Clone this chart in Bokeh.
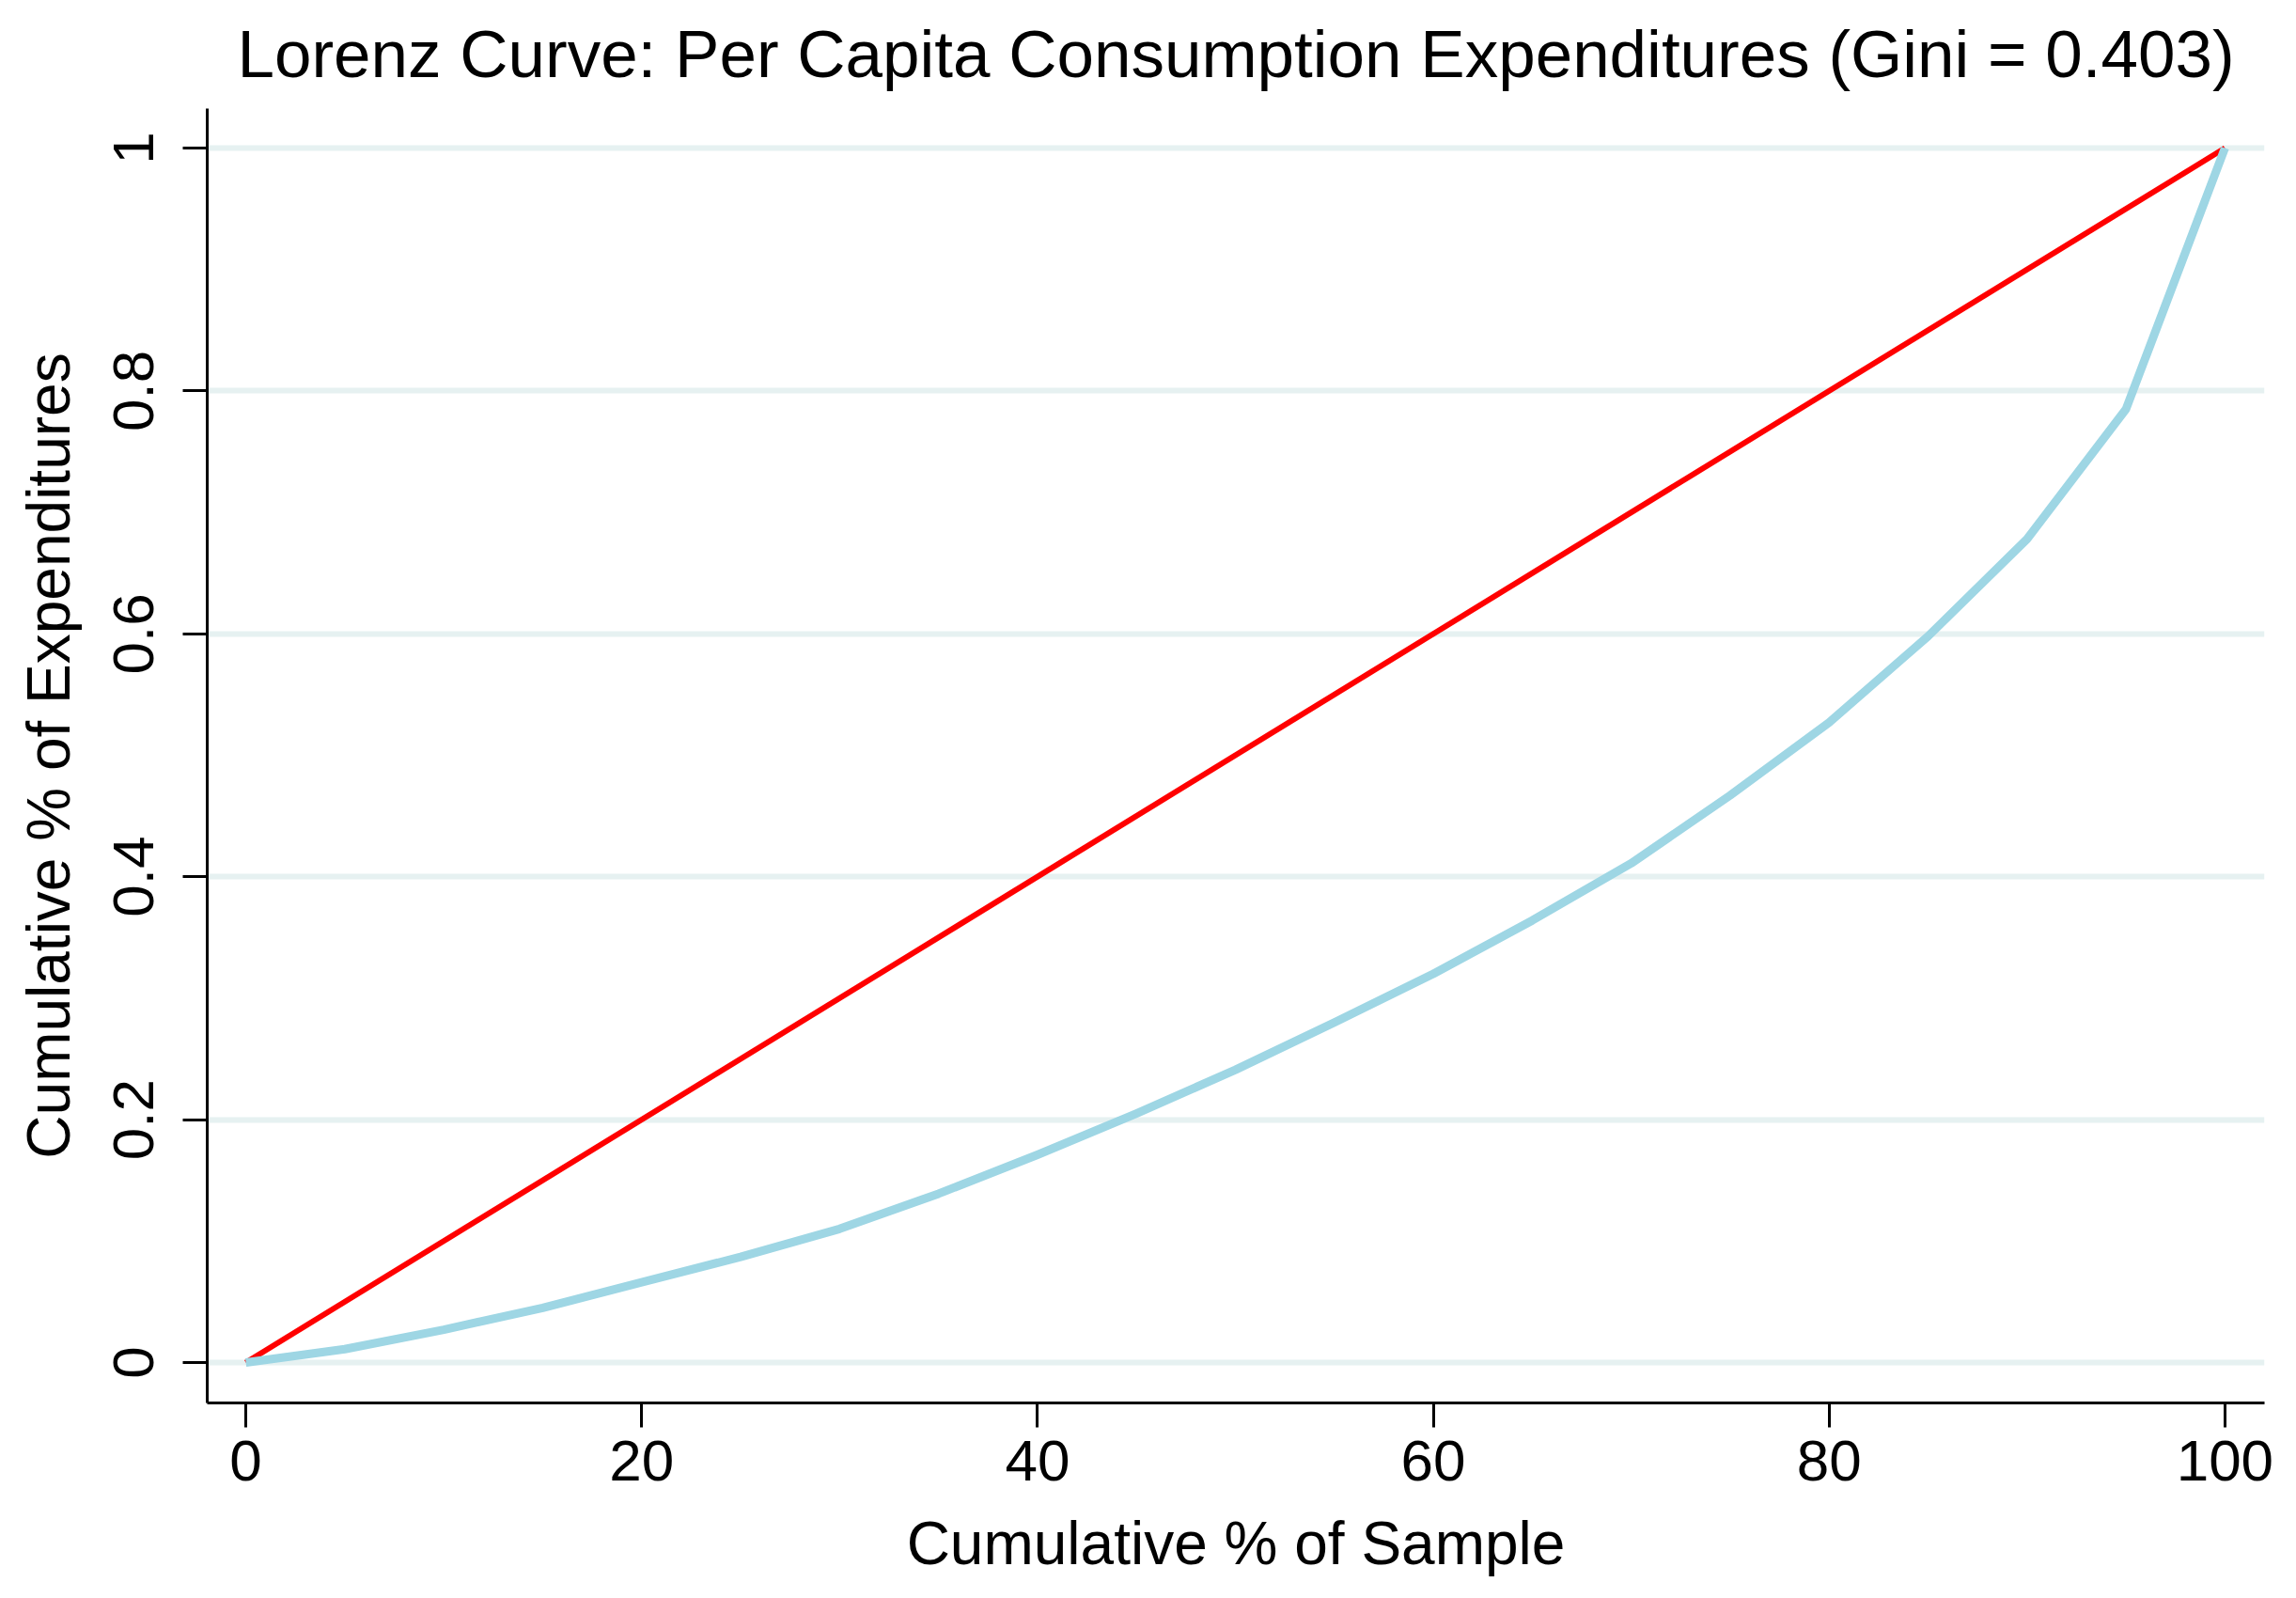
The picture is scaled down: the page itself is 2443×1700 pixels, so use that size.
from bokeh.plotting import figure
from bokeh.models import Range1d, FixedTicker
from bokeh.embed import file_html
from bokeh.resources import INLINE

# Data
cum_sample = [0, 5, 10, 15, 20, 25, 30, 35, 40, 45, 50, 55, 60, 65, 70, 75, 80, 85, 90, 95, 100]
cum_expend = [0.0, 0.011, 0.027, 0.045, 0.066, 0.087, 0.110, 0.139, 0.171, 0.205, 0.241,
              0.280, 0.320, 0.364, 0.411, 0.467, 0.527, 0.598, 0.678, 0.785, 1.0]
equality_x = [0, 100]
equality_y = [0, 1]

x_ticks = [0, 20, 40, 60, 80, 100]
y_ticks = [0, 0.2, 0.4, 0.6, 0.8, 1]
y_tick_labels = ["0", "0.2", "0.4", "0.6", "0.8", "1"]

FONT = "Liberation Sans"

p = figure(width=2427, height=1684, output_backend="svg", toolbar_location=None,
           x_range=Range1d(-1.95, 102.0), y_range=Range1d(-0.0333, 1.0325),
           min_border_left=220, min_border_right=18, min_border_top=115, min_border_bottom=192,
           title="Lorenz Curve: Per Capita Consumption Expenditures (Gini = 0.403)")

p.title.text_font = FONT
p.title.text_font_size = "71px"
p.title.text_font_style = "normal"
p.title.text_color = "black"
p.title.align = "center"
p.title.vertical_align = "top"
p.title.text_line_height = 0.7
p.title.standoff = 33

p.outline_line_color = None
p.background_fill_color = "white"
p.border_fill_color = "white"

# grid
p.xgrid.grid_line_color = None
p.ygrid.grid_line_color = "#e6f1f1"
p.ygrid.grid_line_width = 6
p.ygrid.ticker = FixedTicker(ticks=y_ticks)

# axes
p.xaxis.ticker = FixedTicker(ticks=x_ticks)
p.yaxis.ticker = FixedTicker(ticks=y_ticks)
p.yaxis.major_label_overrides = dict(zip(y_ticks, y_tick_labels))
p.yaxis.major_label_orientation = "vertical"

for ax in (p.xaxis, p.yaxis):
    ax.axis_line_color = "black"
    ax.axis_line_width = 3
    ax.major_tick_line_color = "black"
    ax.major_tick_line_width = 3
    ax.major_tick_out = 26
    ax.major_tick_in = 0
    ax.minor_tick_line_color = None
    ax.major_label_text_font = FONT
    ax.major_label_text_font_size = "62px"
    ax.major_label_text_color = "black"
    ax.axis_label_text_font = FONT
    ax.axis_label_text_font_size = "64px"
    ax.axis_label_text_font_style = "normal"
    ax.axis_label_text_color = "black"

p.xaxis.axis_label = "Cumulative % of Sample"
p.yaxis.axis_label = "Cumulative % of Expenditures"
p.xaxis.major_label_standoff = 14
p.yaxis.major_label_standoff = 31
p.xaxis.axis_label_standoff = 28
p.yaxis.axis_label_standoff = 31

p.line(equality_x, equality_y, line_color="#ff0000", line_width=6, line_join="round")
p.line(cum_sample, cum_expend, line_color="#9ed6e4", line_width=9, line_join="round")

open("out.html", "w").write(file_html(p, INLINE))
